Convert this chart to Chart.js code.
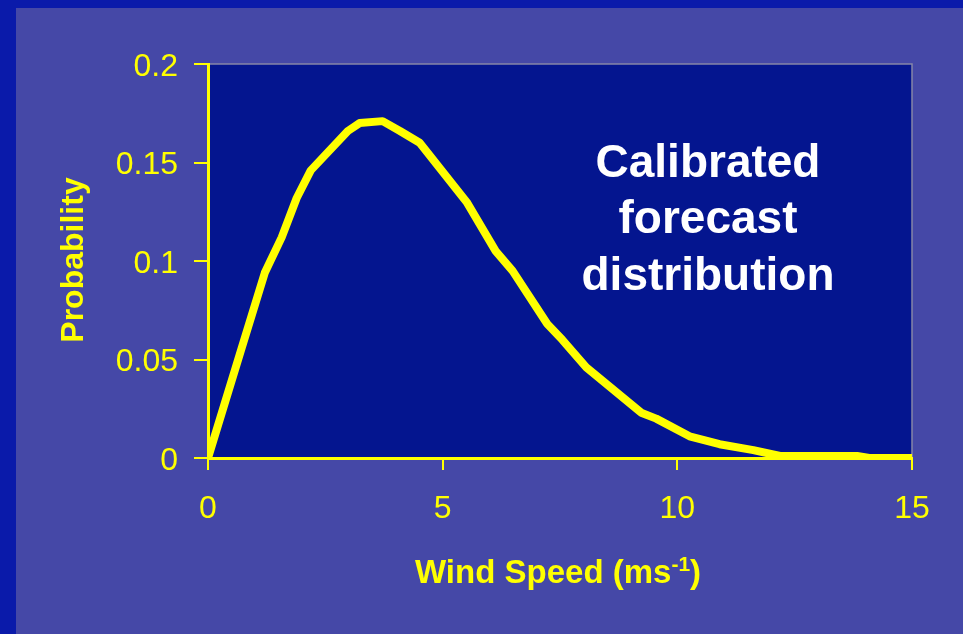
<!DOCTYPE html>
<html>
<head>
<meta charset="utf-8">
<script src="https://cdn.jsdelivr.net/npm/chart.js@4.4.1/dist/chart.umd.min.js"></script>
<style>
	html, body { margin: 0; padding: 0; background: #0A1AAA; }
	#wrap { position: relative; width: 963px; height: 634px; }
</style>
</head>
<body>
<div id="wrap"><canvas id="graphPDF" width="963" height="634"></canvas></div>
<script>
// data
var windSpeed   = [0, 0.72, 1.21, 1.57, 1.89, 2.19, 2.98, 3.23, 3.72, 4.09, 4.51, 5.51, 6.13, 6.49, 7.23, 7.55, 8.06, 9.23, 9.55, 10.26, 10.9, 11.62, 12.19, 13.83, 14.09, 15];
var probability = [0, 0.056, 0.094, 0.112, 0.132, 0.146, 0.166, 0.170, 0.171, 0.166, 0.160, 0.130, 0.105, 0.095, 0.068, 0.060, 0.046, 0.023, 0.020, 0.011, 0.007, 0.004, 0.001, 0.001, 0, 0];
var xTicks = [0, 5, 10, 15];
var yTicks = [0, 0.05, 0.1, 0.15, 0.2];
var noteLines = ["Calibrated", "forecast", "distribution"];

var YELLOW = '#FFFF00';
var FONT = "Arial, 'Liberation Sans', sans-serif";

// background, plot panel, titles and the note
var slidePlugin = {
	id: 'slide',
	beforeDraw: function(chart) {
		var ctx = chart.ctx;
		var a = chart.chartArea;
		ctx.save();
		ctx.fillStyle = '#0A1AAA';
		ctx.fillRect(0, 0, chart.width, chart.height);
		ctx.fillStyle = '#4548A7';
		ctx.fillRect(16, 8, chart.width - 16, chart.height - 8);
		ctx.fillStyle = '#04158F';
		ctx.fillRect(a.left, a.top, a.right - a.left, a.bottom - a.top);
		// thin grey frame on top and right
		ctx.strokeStyle = '#8585A8';
		ctx.lineWidth = 1.5;
		ctx.beginPath();
		ctx.moveTo(a.left, a.top);
		ctx.lineTo(a.right, a.top);
		ctx.lineTo(a.right, a.bottom);
		ctx.stroke();
		ctx.restore();
	},
	afterDraw: function(chart) {
		var ctx = chart.ctx;
		ctx.save();
		ctx.fillStyle = YELLOW;
		ctx.textBaseline = 'alphabetic';

		// x title with superscript
		var x = 415, base = 583;
		ctx.textAlign = 'left';
		ctx.font = 'bold 33px ' + FONT;
		var main = 'Wind Speed (ms';
		ctx.fillText(main, x, base);
		x += ctx.measureText(main).width;
		ctx.font = 'bold 21px ' + FONT;
		ctx.fillText('-1', x, base - 12);
		x += ctx.measureText('-1').width;
		ctx.font = 'bold 33px ' + FONT;
		ctx.fillText(')', x, base);

		// y title
		ctx.save();
		ctx.translate(83, 260);
		ctx.rotate(-Math.PI / 2);
		ctx.textAlign = 'center';
		ctx.font = 'bold 32px ' + FONT;
		ctx.fillText('Probability', 0, 0);
		ctx.restore();

		// note inside the plot
		ctx.fillStyle = '#FFFFFF';
		ctx.textAlign = 'center';
		ctx.font = 'bold 46px ' + FONT;
		var baselines = [177, 233, 290];
		noteLines.forEach(function(t, i) {
			ctx.fillText(t, 708, baselines[i]);
		});
		ctx.restore();
	}
};

var points = windSpeed.map(function(v, i) { return { x: v, y: probability[i] }; });

new Chart(document.getElementById('graphPDF').getContext('2d'), {
	type: 'scatter',
	data: {
		datasets: [{
			data: points,
			showLine: true,
			borderColor: YELLOW,
			borderWidth: 8,
			pointRadius: 0,
			tension: 0,
			borderJoinStyle: 'round',
			borderCapStyle: 'round'
		}]
	},
	options: {
		animation: false,
		responsive: false,
		maintainAspectRatio: false,
		layout: { padding: { left: 0, right: 51, top: 64, bottom: 0 } },
		plugins: { legend: { display: false }, tooltip: { enabled: false } },
		scales: {
			x: {
				type: 'linear',
				min: 0,
				max: 15,
				afterBuildTicks: function(axis) {
					axis.ticks = xTicks.map(function(v) { return { value: v }; });
				},
				afterFit: function(scale) { scale.height = 634 - 458; },
				border: { color: YELLOW, width: 3 },
				grid: { drawOnChartArea: false, drawTicks: true, tickLength: 12, color: YELLOW, lineWidth: 2 },
				ticks: {
					color: YELLOW,
					padding: 20,
					maxRotation: 0,
					font: { family: FONT, size: 32 },
					callback: function(value) { return String(value); }
				}
			},
			y: {
				min: 0,
				max: 0.2,
				afterBuildTicks: function(axis) {
					axis.ticks = yTicks.map(function(v) { return { value: v }; });
				},
				afterFit: function(scale) { scale.width = 208; },
				border: { color: YELLOW, width: 3 },
				grid: { drawOnChartArea: false, drawTicks: true, tickLength: 14, color: YELLOW, lineWidth: 2 },
				ticks: {
					color: YELLOW,
					padding: 16,
					labelOffset: 3,
					font: { family: FONT, size: 32 },
					callback: function(value) { return String(+value.toFixed(2)); }
				}
			}
		}
	},
	plugins: [slidePlugin]
});
</script>
</body>
</html>
